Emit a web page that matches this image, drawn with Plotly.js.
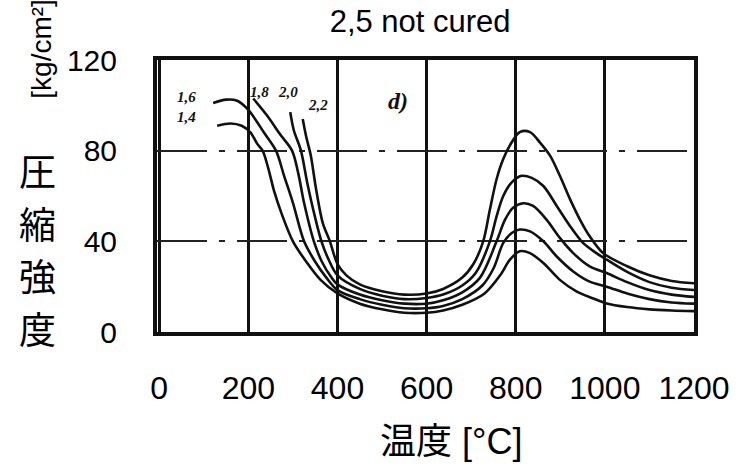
<!DOCTYPE html>
<html>
<head>
<meta charset="utf-8">
<script src="https://cdn.plot.ly/plotly-3.0.1.min.js"></script>
<style>html,body{margin:0;padding:0;background:#fff;}#chart{width:747px;height:474px;}</style>
</head>
<body>
<div id="chart"></div>
<script>
// Series names (labels printed beside the curves)
const seriesNames = ["1,4", "1,6", "1,8", "2,0", "2,2"];

// Temperature [°C] and compressive strength [kg/cm²] for each curve
const temp14 = [130,160,185,205,220,232,245,258,275,300,330,362,400,450,500,550,600,637,680,730,765,787,809,832,862,899,937,974,1004,1050,1100,1150,1200];
const str14  = [91,92,91,88,83,80,72,62,52,40,31,23,17,12.5,10,8.5,8.5,9.5,12,17,25,31.9,35.6,34.8,30.4,23,17.8,14.8,12.6,11,10,9.5,9.2];

const temp16 = [121,150,175,200,215,235,262,280,300,325,350,375,400,450,500,550,600,637,680,725,750,772,791,809,832,862,892,929,966,1004,1050,1100,1150,1200];
const str16  = [101,102.5,102,98,94,88,80,69,57,40,31,24,18.5,14.5,12,10.5,10.5,11.5,14.5,20.5,28,39.3,43.7,45.2,44.4,40,33.3,26.7,22.2,20,17,14.5,13,12.5];

const temp18 = [211,242,272,298,312,325,347,365,385,400,450,500,550,600,637,680,720,757,776,794,817,839,869,899,929,966,1004,1050,1100,1150,1200];
const str18  = [103,95.5,87,80,70,57,40,31,24.5,21,16.5,14,12.5,12.5,14,17.5,24,40,49.6,54.8,56.8,55.6,49.6,41.5,34.8,28.9,26,22,18.5,16.5,15.5];

const temp20 = [294,302,318,332,348,364,380,400,450,500,550,600,637,680,710,742,757,772,791,813,836,862,892,922,951,981,1004,1050,1100,1150,1200];
const str20  = [97,89,80,66,52,40,32,25,19,16,14.5,15,16.5,20.5,26,40,51,60,66,68.9,68,64.4,55.6,46.7,39.3,34.8,31.9,26.5,22,19.5,18.5];

const temp22 = [322,330,340,352,367,383,400,420,450,500,550,600,637,680,705,727,742,757,772,791,809,832,854,877,899,922,944,966,996,1050,1100,1150,1200];
const str22  = [94,86,78,63,48,40,30,25,21,18,16.5,17,19,24,30,40,54,67.4,76.3,83.7,88.2,88.2,83.7,77.8,68.9,58.5,49.6,42.2,34.8,29,25,22.5,21.5];

// Axis ticks and titles
const xTicks = [0,200,400,600,800,1000,1200];
const yTicks = [0,40,80,120];
const yTitleChars = ["圧", "縮", "強", "度"];
const yUnit = "[kg/cm²]";
const xTitle = "温度 [°C]";
const chartTitle = "2,5 not cured";

const temps = [temp14, temp16, temp18, temp20, temp22];
const strs  = [str14, str16, str18, str20, str22];

const traces = seriesNames.map((n, i) => ({
  type: 'scatter', mode: 'lines', name: n,
  x: temps[i], y: strs[i],
  line: {color: '#111', width: 2.6, shape: 'spline', smoothing: 0.9},
  hoverinfo: 'x+y+name'
}));

const labelFont = {family: 'Liberation Serif, serif', size: 15, color: '#111', style: 'italic', weight: 'bold'};
const curveLabelPos = [[62, 95], [62, 103.5], [224, 106], [290, 106], [356, 100]];
const annotations = seriesNames.map((n, i) => ({
  x: curveLabelPos[i][0], y: curveLabelPos[i][1], xref: 'x', yref: 'y',
  text: n, showarrow: false, font: labelFont, xanchor: 'center', yanchor: 'middle'
}));
annotations.push({x: 535, y: 102, xref: 'x', yref: 'y', text: 'd)', showarrow: false,
  font: {family: 'Liberation Serif, serif', size: 24, color: '#111', style: 'italic', weight: 'bold'}});

// stacked vertical y title (pixel centres 170, 222.5, 275, 327.5 -> paper coords)
const plotTop = 60, plotBottom = 332, plotH = plotBottom - plotTop;
yTitleChars.forEach((c, i) => {
  const py = 170 + i * 52.5;
  annotations.push({x: -0.222, y: (plotBottom - py) / plotH, xref: 'paper', yref: 'paper', text: c,
    showarrow: false, xanchor: 'center', yanchor: 'middle',
    font: {family: 'Noto Sans CJK JP, sans-serif', size: 37, color: '#000'}});
});
annotations.push({x: -0.215, y: 1.04, xref: 'paper', yref: 'paper', text: yUnit, textangle: -90,
  showarrow: false, xanchor: 'center', yanchor: 'middle',
  font: {family: 'Liberation Sans, Arial, sans-serif', size: 28, color: '#000'}});
annotations.push({x: 0.5475, y: (plotBottom - 441) / plotH, xref: 'paper', yref: 'paper', text: xTitle,
  showarrow: false, xanchor: 'center', yanchor: 'middle',
  font: {family: 'Liberation Sans, Arial, Noto Sans CJK JP, sans-serif', size: 36, color: '#000'}});

const layout = {
  width: 747, height: 474,
  margin: {l: 157, r: 53, t: plotTop, b: 474 - plotBottom},
  paper_bgcolor: '#fff', plot_bgcolor: '#fff',
  showlegend: false,
  font: {family: 'Liberation Sans, Arial, Noto Sans CJK JP, sans-serif', color: '#000'},
  title: {text: chartTitle, font: {size: 31, color: '#000'}, x: 0.49, xref: 'paper', xanchor: 'center',
          y: 1 - 21/474, yanchor: 'middle'},
  xaxis: {
    range: [-5, 1200], tickvals: xTicks, ticktext: xTicks.map(String),
    showgrid: true, gridcolor: '#111', gridwidth: 3, zeroline: false,
    showline: true, mirror: true, linecolor: '#111', linewidth: 4,
    ticks: '', tickfont: {size: 32, color: '#000'}, ticklabelstandoff: 25
  },
  yaxis: {
    range: [0, 120], tickvals: yTicks, ticktext: yTicks.map(String),
    showgrid: true, gridcolor: '#222', gridwidth: 2, griddash: '50px,12px,6px,12px', zeroline: false,
    showline: true, mirror: true, linecolor: '#111', linewidth: 4,
    ticks: '', tickfont: {size: 30, color: '#000'}, ticklabelstandoff: 30
  },
  annotations: annotations
};

Plotly.newPlot('chart', traces, layout, {displayModeBar: false, staticPlot: true});
</script>
</body>
</html>
